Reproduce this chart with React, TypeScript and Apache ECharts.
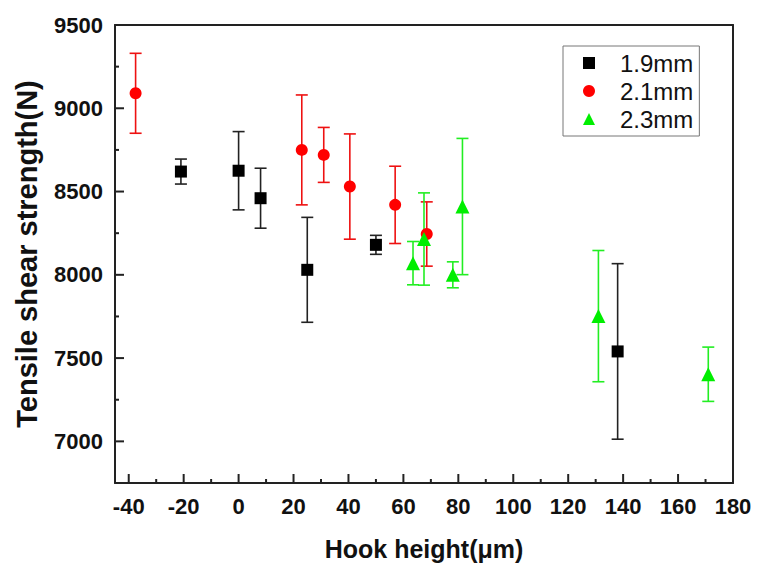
import React, { useEffect, useRef } from "react";
import * as echarts from "echarts";

// Hook height (µm) vs tensile shear strength (N), three sheet thicknesses
const seriesNames = ["1.9mm", "2.1mm", "2.3mm"];

const hook19 = [-21, 0, 8, 25, 50, 138];
const strength19 = [8620, 8625, 8460, 8030, 8180, 7540];
const error19 = [75, 235, 180, 315, 57, 527];

const hook21 = [-37.5, 23, 31, 40.5, 57, 68.5];
const strength21 = [9090, 8750, 8720, 8530, 8420, 8245];
const error21 = [240, 330, 165, 316, 232, 193];

const hook23 = [63.5, 67.5, 78, 81.5, 131, 171];
const strength23 = [8070, 8215, 8000, 8410, 7752, 7403];
const error23 = [130, 277, 78, 409, 394, 163];

const xMajorTicks = [-40, -20, 0, 20, 40, 60, 80, 100, 120, 140, 160, 180];
const xMinorTicks = [-30, -10, 10, 30, 50, 70, 90, 110, 130, 150, 170];
const yMajorTicks = [7000, 7500, 8000, 8500, 9000, 9500];
const yMinorTicks = [7250, 7750, 8250, 8750, 9250];

const X_MIN = -45;
const X_MAX = 180;
const Y_MIN = 6750;
const Y_MAX = 9500;

const colors = ["#000000", "#ff0000", "#00ee00"];
const barColors = ["#222222", "#ee1111", "#22ee22"];
const symbols = ["rect", "circle", "triangle"];

const FONT = "'Liberation Sans', Arial, Helvetica, sans-serif";
const AXIS_COLOR = "#222";
const MAJOR_LEN = 9;
const MINOR_LEN = 4;

function points(xs: number[], ys: number[]) {
  return xs.map((x, i) => [x, ys[i]]);
}

function ranges(xs: number[], ys: number[], es: number[]) {
  return xs.map((x, i) => [x, ys[i] - es[i], ys[i] + es[i]]);
}

function errorBarSeries(name: string, data: number[][], color: string) {
  return {
    type: "custom",
    name: name + " error",
    data,
    encode: { x: 0, y: [1, 2] },
    z: 2,
    silent: true,
    renderItem: (_params: any, api: any) => {
      const x = api.value(0);
      const top = api.coord([x, api.value(2)]);
      const bottom = api.coord([x, api.value(1)]);
      const hw = 6;
      const style = { stroke: color, lineWidth: 1.6 };
      return {
        type: "group",
        children: [
          { type: "line", shape: { x1: top[0], y1: top[1], x2: bottom[0], y2: bottom[1] }, style },
          { type: "line", shape: { x1: top[0] - hw, y1: top[1], x2: top[0] + hw, y2: top[1] }, style },
          { type: "line", shape: { x1: bottom[0] - hw, y1: bottom[1], x2: bottom[0] + hw, y2: bottom[1] }, style },
        ],
      };
    },
  };
}

function scatterSeries(idx: number, data: number[][]) {
  return {
    type: "scatter",
    name: seriesNames[idx],
    data,
    symbol: symbols[idx],
    symbolSize: idx === 2 ? 14 : 12,
    itemStyle: { color: colors[idx], opacity: 1 },
    z: 3,
  };
}

// Inward tick marks on the bottom (x) or left (y) frame edge, placed through the axis scales
function tickSeries(dim: "x" | "y", values: number[], len: number) {
  const data = values.map((v) => (dim === "x" ? [v, Y_MIN] : [X_MIN, v]));
  return {
    type: "custom",
    name: "ticks-" + dim + "-" + len,
    data,
    encode: { x: 0, y: 1 },
    z: 4,
    silent: true,
    clip: false,
    renderItem: (_params: any, api: any) => {
      const p = api.coord([api.value(0), api.value(1)]);
      const shape =
        dim === "x"
          ? { x1: p[0], y1: p[1], x2: p[0], y2: p[1] - len }
          : { x1: p[0], y1: p[1], x2: p[0] + len, y2: p[1] };
      return { type: "line", shape, style: { stroke: AXIS_COLOR, lineWidth: 2 } };
    },
  };
}

// A bare frame line on the top or right edge
function frameAxis(min: number, max: number, position: string) {
  return {
    type: "value",
    min,
    max,
    position,
    axisLine: { show: true, onZero: false, lineStyle: { color: AXIS_COLOR, width: 2 } },
    axisTick: { show: false },
    axisLabel: { show: false },
    splitLine: { show: false },
  };
}

export default function App() {
  const ref = useRef<HTMLDivElement>(null);

  useEffect(() => {
    if (!ref.current) return;
    const chart = echarts.init(ref.current, undefined, { renderer: "svg" });

    chart.setOption({
      animation: false,
      backgroundColor: "#ffffff",
      grid: {
        left: 115,
        right: 25,
        top: 25,
        bottom: 80,
        show: false,
        outerBoundsMode: "none",
      },
      legend: {
        data: seriesNames.map((n, i) => ({ name: n, icon: symbols[i] })),
        orient: "vertical",
        left: 563,
        top: 46,
        itemWidth: 12,
        itemHeight: 12,
        itemGap: 4,
        padding: [5, 6, 5, 20],
        borderColor: "#777",
        borderWidth: 1,
        textStyle: { fontFamily: FONT, fontSize: 24, color: "#111", padding: [0, 0, 0, 20] },
      },
      xAxis: [
        {
          type: "value",
          min: X_MIN,
          max: X_MAX,
          position: "bottom",
          name: "Hook height(μm)",
          nameLocation: "middle",
          nameGap: 53,
          nameTextStyle: { fontFamily: FONT, fontSize: 25, fontWeight: "bold", color: "#111", verticalAlign: "top" },
          axisLine: { show: true, onZero: false, lineStyle: { color: AXIS_COLOR, width: 2 } },
          axisTick: { show: false },
          axisLabel: {
            customValues: xMajorTicks,
            margin: 12,
            formatter: (v: number) => String(v),
            fontFamily: FONT,
            fontSize: 22,
            fontWeight: "bold",
            color: "#111",
          },
          splitLine: { show: false },
        },
        frameAxis(X_MIN, X_MAX, "top"),
      ],
      yAxis: [
        {
          type: "value",
          min: Y_MIN,
          max: Y_MAX,
          position: "left",
          name: "Tensile shear strength(N)",
          nameLocation: "middle",
          nameGap: 74,
          nameTextStyle: { fontFamily: FONT, fontSize: 29, fontWeight: "bold", color: "#111" },
          axisLine: { show: true, onZero: false, lineStyle: { color: AXIS_COLOR, width: 2 } },
          axisTick: { show: false },
          axisLabel: {
            customValues: yMajorTicks,
            margin: 12,
            formatter: (v: number) => String(v),
            fontFamily: FONT,
            fontSize: 22,
            fontWeight: "bold",
            color: "#111",
          },
          splitLine: { show: false },
        },
        frameAxis(Y_MIN, Y_MAX, "right"),
      ],
      series: [
        tickSeries("x", xMajorTicks, MAJOR_LEN),
        tickSeries("x", xMinorTicks, MINOR_LEN),
        tickSeries("y", yMajorTicks, MAJOR_LEN),
        tickSeries("y", yMinorTicks, MINOR_LEN),
        errorBarSeries(seriesNames[0], ranges(hook19, strength19, error19), barColors[0]),
        errorBarSeries(seriesNames[1], ranges(hook21, strength21, error21), barColors[1]),
        errorBarSeries(seriesNames[2], ranges(hook23, strength23, error23), barColors[2]),
        scatterSeries(0, points(hook19, strength19)),
        scatterSeries(1, points(hook21, strength21)),
        scatterSeries(2, points(hook23, strength23)),
      ],
    });

    return () => chart.dispose();
  }, []);

  return (
    <div
      ref={ref}
      style={{ position: "absolute", left: 0, top: 0, width: 758, height: 563, background: "#fff" }}
    />
  );
}
